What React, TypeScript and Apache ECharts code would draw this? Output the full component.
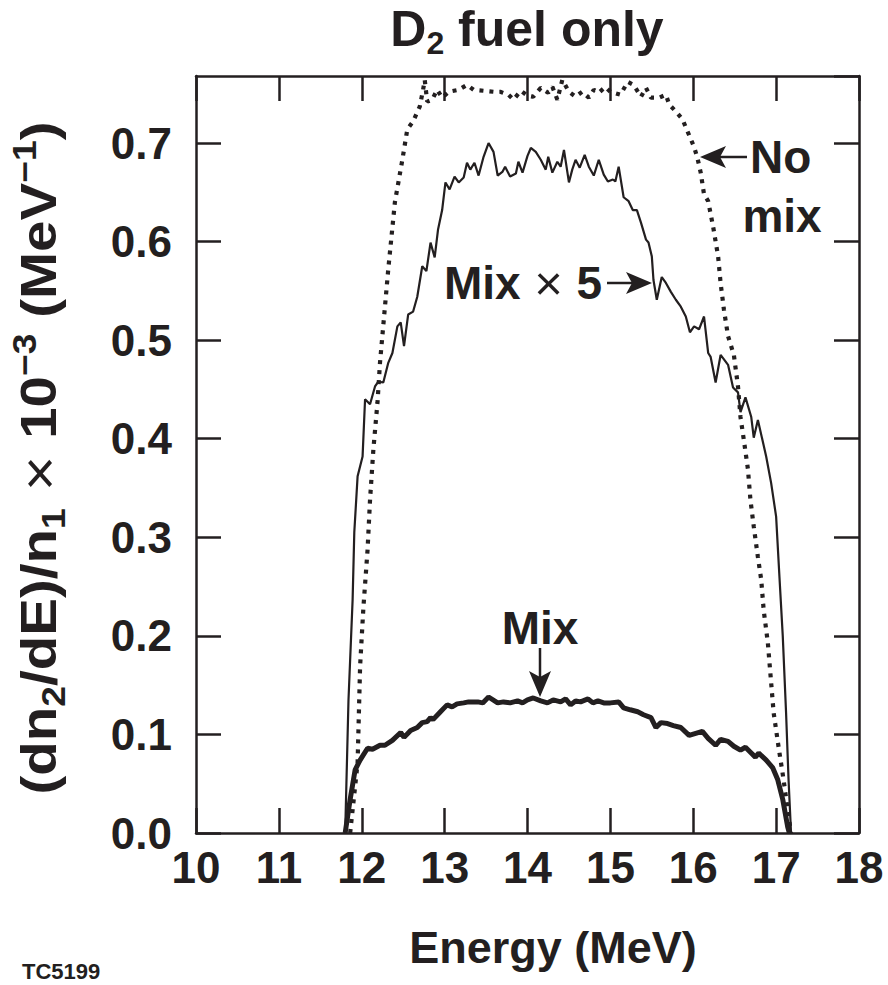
import React, { useEffect, useRef } from "react";
import * as echarts from "echarts";

const INK = "#231f20";
const FONT = "'Liberation Sans', Arial, Helvetica, sans-serif";

// Axis settings
const xMin = 10;
const xMax = 18;
const yMin = 0;
const yMax = 0.768;

// "No mix" (dotted)
const noMixE = [11.86, 11.95, 11.98, 12.02, 12.07, 12.10, 12.14, 12.19, 12.22, 12.32, 12.40, 12.49, 12.55, 12.62, 12.70, 12.74, 12.76, 12.79, 12.85, 12.91, 12.97, 13.05, 13.17, 13.27, 13.35, 13.47, 13.59, 13.67, 13.77, 13.83, 13.92, 14.00, 14.07, 14.16, 14.25, 14.30, 14.36, 14.42, 14.50, 14.58, 14.66, 14.74, 14.80, 14.86, 14.94, 15.00, 15.12, 15.21, 15.28, 15.37, 15.43, 15.49, 15.59, 15.67, 15.71, 15.79, 15.87, 15.93, 16.01, 16.05, 16.09, 16.13, 16.18, 16.24, 16.30, 16.33, 16.37, 16.42, 16.49, 16.54, 16.57, 16.61, 16.66, 16.69, 16.73, 16.78, 16.82, 16.85, 16.90, 16.97, 17.03, 17.09, 17.14, 17.18];
const noMixV = [0, 0.071, 0.169, 0.229, 0.287, 0.338, 0.389, 0.437, 0.477, 0.572, 0.640, 0.683, 0.714, 0.722, 0.737, 0.754, 0.764, 0.742, 0.744, 0.754, 0.746, 0.752, 0.754, 0.759, 0.754, 0.753, 0.752, 0.752, 0.749, 0.744, 0.753, 0.748, 0.747, 0.756, 0.751, 0.757, 0.744, 0.764, 0.752, 0.747, 0.752, 0.746, 0.754, 0.751, 0.757, 0.752, 0.749, 0.762, 0.759, 0.747, 0.756, 0.746, 0.746, 0.749, 0.739, 0.732, 0.724, 0.712, 0.696, 0.685, 0.670, 0.648, 0.641, 0.615, 0.585, 0.558, 0.531, 0.504, 0.485, 0.453, 0.422, 0.399, 0.369, 0.338, 0.311, 0.280, 0.257, 0.226, 0.193, 0.122, 0.087, 0.054, 0.023, 0];

// "Mix x 5" (thin solid)
const mix5E = [11.80, 11.84, 11.89, 11.91, 11.95, 12.01, 12.04, 12.10, 12.16, 12.20, 12.26, 12.32, 12.37, 12.43, 12.47, 12.51, 12.56, 12.62, 12.67, 12.73, 12.78, 12.83, 12.88, 12.92, 12.97, 13.01, 13.06, 13.12, 13.17, 13.23, 13.27, 13.31, 13.36, 13.41, 13.47, 13.53, 13.59, 13.64, 13.70, 13.73, 13.79, 13.86, 13.89, 13.94, 14.00, 14.04, 14.10, 14.16, 14.22, 14.25, 14.30, 14.36, 14.40, 14.44, 14.50, 14.54, 14.58, 14.63, 14.69, 14.74, 14.80, 14.86, 14.92, 14.97, 15.03, 15.06, 15.10, 15.16, 15.22, 15.27, 15.32, 15.37, 15.43, 15.46, 15.50, 15.52, 15.56, 15.62, 15.67, 15.73, 15.79, 15.85, 15.91, 15.96, 16.01, 16.07, 16.13, 16.18, 16.21, 16.27, 16.33, 16.42, 16.48, 16.54, 16.57, 16.63, 16.70, 16.73, 16.78, 16.88, 16.94, 17.00, 17.04, 17.08, 17.12, 17.15, 17.18];
const mix5V = [0, 0.135, 0.237, 0.305, 0.362, 0.382, 0.440, 0.435, 0.453, 0.458, 0.457, 0.477, 0.487, 0.514, 0.518, 0.494, 0.526, 0.529, 0.544, 0.575, 0.570, 0.599, 0.584, 0.612, 0.632, 0.660, 0.653, 0.666, 0.660, 0.665, 0.680, 0.673, 0.680, 0.667, 0.686, 0.700, 0.691, 0.667, 0.671, 0.676, 0.666, 0.669, 0.681, 0.670, 0.687, 0.695, 0.691, 0.683, 0.673, 0.686, 0.670, 0.681, 0.676, 0.693, 0.660, 0.673, 0.683, 0.675, 0.688, 0.676, 0.667, 0.683, 0.668, 0.661, 0.663, 0.661, 0.676, 0.645, 0.641, 0.632, 0.632, 0.619, 0.602, 0.599, 0.585, 0.561, 0.541, 0.564, 0.558, 0.549, 0.541, 0.534, 0.524, 0.508, 0.514, 0.511, 0.524, 0.487, 0.483, 0.457, 0.485, 0.475, 0.452, 0.447, 0.427, 0.442, 0.422, 0.401, 0.419, 0.382, 0.355, 0.321, 0.260, 0.200, 0.122, 0.054, 0];

// "Mix" (thick solid)
const mixE = [11.80, 11.86, 11.92, 11.98, 12.07, 12.13, 12.22, 12.28, 12.37, 12.47, 12.51, 12.59, 12.67, 12.73, 12.79, 12.83, 12.86, 12.95, 13.03, 13.09, 13.15, 13.23, 13.29, 13.40, 13.46, 13.53, 13.64, 13.71, 13.79, 13.88, 13.94, 14.00, 14.07, 14.16, 14.24, 14.31, 14.40, 14.46, 14.52, 14.58, 14.64, 14.73, 14.79, 14.85, 14.92, 15.00, 15.10, 15.16, 15.24, 15.33, 15.40, 15.49, 15.55, 15.61, 15.69, 15.76, 15.85, 15.95, 16.03, 16.11, 16.18, 16.27, 16.33, 16.42, 16.49, 16.57, 16.63, 16.69, 16.75, 16.79, 16.88, 16.96, 17.02, 17.08, 17.14, 17.16];
const mixV = [0, 0.034, 0.064, 0.074, 0.086, 0.085, 0.089, 0.089, 0.094, 0.102, 0.097, 0.104, 0.107, 0.112, 0.113, 0.117, 0.115, 0.123, 0.130, 0.128, 0.131, 0.132, 0.133, 0.133, 0.132, 0.138, 0.132, 0.133, 0.132, 0.134, 0.132, 0.135, 0.137, 0.134, 0.132, 0.135, 0.133, 0.136, 0.130, 0.134, 0.133, 0.136, 0.132, 0.134, 0.132, 0.132, 0.133, 0.127, 0.125, 0.123, 0.120, 0.117, 0.107, 0.112, 0.111, 0.109, 0.107, 0.099, 0.101, 0.103, 0.096, 0.089, 0.095, 0.093, 0.088, 0.084, 0.087, 0.082, 0.077, 0.081, 0.074, 0.066, 0.054, 0.034, 0.006, 0];

const zip = (xs: number[], ys: number[]) => xs.map((x, i) => [x, ys[i]]);

const axisLine = { show: true, onZero: false, lineStyle: { color: INK, width: 2.5 } };
const axisTick = { show: true, inside: true, length: 25, lineStyle: { color: INK, width: 2.5 } };
const labelStyle = { fontSize: 44, fontWeight: "bold", color: INK, fontFamily: FONT };

function buildOption() {
  const xBase = { type: "value", min: xMin, max: xMax, interval: 1, axisLine, axisTick, splitLine: { show: false } };
  const yBase = { type: "value", min: yMin, max: yMax, interval: 0.1, axisLine, axisTick, splitLine: { show: false } };
  const bigText = { fontSize: 46, fontWeight: "bold", fontFamily: FONT, fill: INK };
  const tok = (fontSize: number, extra: any = {}) => ({ fontSize, fontWeight: "bold", fontFamily: FONT, fill: INK, ...extra });
  return {
    animation: false,
    backgroundColor: "#fff",
    grid: { left: 196, top: 76, width: 663, height: 757, containLabel: false },
    xAxis: [
      { ...xBase, position: "bottom", axisLabel: { ...labelStyle, margin: 12 } },
      { ...xBase, position: "top", axisLabel: { show: false } },
    ],
    yAxis: [
      {
        ...yBase,
        position: "left",
        axisLabel: {
          ...labelStyle,
          margin: 24,
          showMaxLabel: false,
          formatter: (v: number) => (Math.abs(v * 10 - Math.round(v * 10)) < 1e-6 ? v.toFixed(1) : ""),
        },
      },
      { ...yBase, position: "right", axisLabel: { show: false } },
    ],
    series: [
      {
        name: "No mix",
        type: "line",
        xAxisIndex: 0,
        yAxisIndex: 0,
        data: zip(noMixE, noMixV),
        showSymbol: false,
        symbol: "none",
        lineStyle: { color: INK, width: 4.2, type: [4, 6] },
      },
      {
        name: "Mix x 5",
        type: "line",
        xAxisIndex: 0,
        yAxisIndex: 0,
        data: zip(mix5E, mix5V),
        showSymbol: false,
        symbol: "none",
        lineStyle: { color: INK, width: 2.2 },
      },
      {
        name: "Mix",
        type: "line",
        xAxisIndex: 0,
        yAxisIndex: 0,
        data: zip(mixE, mixV),
        showSymbol: false,
        symbol: "none",
        lineStyle: { color: INK, width: 5 },
      },
    ],
    graphic: [
      {
        type: "text",
        x: 527,
        y: 29,
        style: {
          text: "D{sub|2} fuel only",
          ...bigText,
          fontSize: 50,
          align: "center",
          verticalAlign: "middle",
          lineHeight: 60,
          rich: { sub: tok(32, { lineHeight: 32, verticalAlign: "bottom" }) },
        },
      },
      {
        type: "text",
        x: 39,
        y: 458,
        rotation: Math.PI / 2,
        scaleX: 1.13,
        style: {
          text: "(dn{sub|2}/dE)/n{sub|1}{x| \u00d7 }10{sup|\u22123} (MeV{sup|\u22121})",
          ...bigText,
          fontSize: 50,
          align: "center",
          verticalAlign: "middle",
          lineHeight: 62,
          rich: {
            sub: tok(33, { lineHeight: 33, verticalAlign: "bottom" }),
            sup: tok(33, { lineHeight: 33, verticalAlign: "top" }),
            x: tok(54, { fontWeight: "normal", lineHeight: 62 }),
          },
        },
      },
      {
        type: "text",
        x: 553,
        y: 947,
        style: { text: "Energy (MeV)", ...bigText, fontSize: 45, align: "center", verticalAlign: "middle" },
      },
      {
        type: "text",
        x: 22,
        y: 971,
        style: { text: "TC5199", fontSize: 22, fontWeight: "bold", fontFamily: FONT, fill: INK, align: "left", verticalAlign: "middle" },
      },
      // No mix annotation
      { type: "text", x: 750, y: 157, style: { text: "No", ...bigText, align: "left", verticalAlign: "middle" } },
      { type: "text", x: 782, y: 216, style: { text: "mix", ...bigText, align: "center", verticalAlign: "middle" } },
      { type: "line", shape: { x1: 747, y1: 157, x2: 716, y2: 157 }, style: { stroke: INK, lineWidth: 2.5 } },
      { type: "polygon", shape: { points: [[700, 157], [726, 146], [720, 157], [726, 168]] }, style: { fill: INK } },
      // Mix x 5 annotation
      {
        type: "text",
        x: 602,
        y: 283,
        style: {
          text: "Mix{x| \u00d7 }5",
          ...bigText,
          align: "right",
          verticalAlign: "middle",
          lineHeight: 56,
          rich: { x: tok(49, { fontWeight: "normal", lineHeight: 56 }) },
        },
      },
      { type: "line", shape: { x1: 607, y1: 283, x2: 638, y2: 283 }, style: { stroke: INK, lineWidth: 2.5 } },
      { type: "polygon", shape: { points: [[652, 283], [626, 272], [632, 283], [626, 294]] }, style: { fill: INK } },
      // Mix annotation
      { type: "text", x: 540, y: 628, style: { text: "Mix", ...bigText, align: "center", verticalAlign: "middle" } },
      { type: "line", shape: { x1: 540, y1: 648, x2: 540, y2: 684 }, style: { stroke: INK, lineWidth: 2.5 } },
      { type: "polygon", shape: { points: [[540, 697], [529, 671], [540, 677], [551, 671]] }, style: { fill: INK } },
    ],
  };
}

export default function App() {
  const ref = useRef<HTMLDivElement>(null);
  useEffect(() => {
    if (!ref.current) return;
    const chart = echarts.init(ref.current, null, { renderer: "svg" });
    chart.setOption(buildOption() as any);
    return () => chart.dispose();
  }, []);
  return (
    <div
      ref={ref}
      style={{ position: "absolute", left: 0, top: 0, width: 888, height: 985, background: "#fff" }}
    />
  );
}
